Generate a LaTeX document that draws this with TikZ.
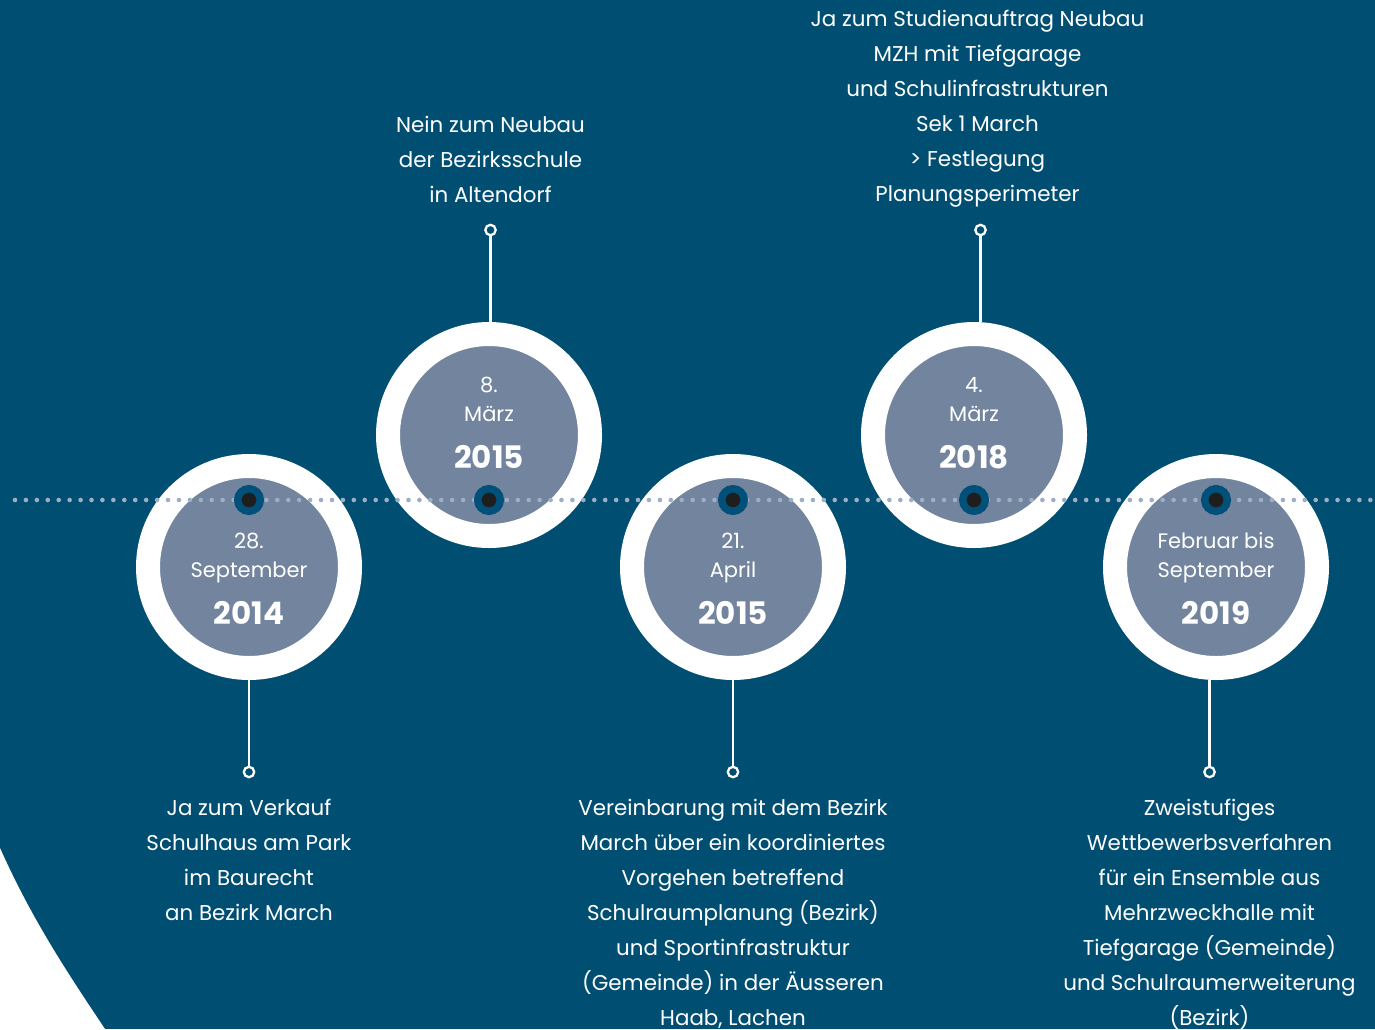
\documentclass[tikz,border=0pt]{standalone}
\usepackage{fontspec}
\setmainfont{Poppins}
\usepackage{xcolor}
\usetikzlibrary{positioning}

\definecolor{bgblue}{HTML}{004F73}
\definecolor{ringgrey}{HTML}{72849E}
\definecolor{dotgrey}{HTML}{9DAFC4}
\definecolor{markblue}{HTML}{00507A}
\definecolor{markblack}{HTML}{1E1E1E}

\tikzset{
  ring/.style={circle, draw=white, line width=24pt, fill=ringgrey, minimum size=202pt, inner sep=0pt},
  marker/.style={circle, draw=markblue, line width=7.5pt, fill=markblack, minimum size=22.5pt, inner sep=0pt},
  endpt/.style={circle, draw=white, line width=2.3pt, fill=bgblue, minimum size=10.4pt, inner sep=0pt},
  stem/.style={white, line width=2.3pt},
  desc/.style={text=white, align=center, inner sep=0pt, font=\fontsize{21.4}{35}\selectfont},
  datum/.style={text=white, inner sep=0pt, anchor=base, font=\fontsize{21}{26}\selectfont},
  jahr/.style={text=white, inner sep=0pt, anchor=base, font=\bfseries\fontsize{31}{36}\selectfont},
  punkte/.style={dotgrey, line width=4.6pt, line cap=round, dash pattern=on 0pt off 10.93pt}
}

\begin{document}
\begin{tikzpicture}[x=1pt, y=-1pt]
% Hintergrund
\useasboundingbox (0,0) rectangle (1375,1029);
\fill [bgblue] (0,0) rectangle (1375,1029);
\fill [white] (0,848) .. controls (30,915) and (62,965) .. (105,1029) -- (0,1029) -- cycle;
% Kreise
\foreach \n/\x/\y/\d/\eins/\zwei/\jahrzahl in {
    14/249/567/0/28./September/2014,
    15a/489/435/-24/8./März/2015,
    15b/733/567/0/21./April/2015,
    18/974/435/-24/4./März/2018,
    19/1216/567/0/Februar bis/September/2019}
{
  \node [ring] (c\n) at (\x,\y) {};
  \node [datum] (a\n) at (\x,{\y-19+\d}) {\eins};
  \node [datum] (b\n) at (\x,{\y+10.5+\d}) {\zwei};
  \node [jahr] (y\n) at (\x,{\y+57+\d}) {\jahrzahl};
}
% Zeitachse
\draw [punkte] (15,500) -- (1375,500);
\foreach \n/\x in {14/249, 15a/489, 15b/733, 18/974, 19/1216}
  \node [marker] (m\n) at (\x,500) {};
% Verbindungen oben
\node [endpt] (e15a) at (490.5,230) {};
\draw [stem] (e15a) -- (e15a |- c15a.north);
\node [endpt] (e18) at (980.5,230) {};
\draw [stem] (e18) -- (e18 |- c18.north);
% Verbindungen unten
\node [endpt] (e14) at (249,772) {};
\draw [stem] (e14) -- (e14 |- c14.south);
\node [endpt] (e15b) at (733,772) {};
\draw [stem] (e15b) -- (e15b |- c15b.south);
\node [endpt] (e19) at (1209.5,772) {};
\draw [stem] (e19) -- (e19 |- c19.south);
% Texte
\node [desc, above=21pt of e15a] (d15a) {Nein zum Neubau\\der Bezirksschule\\in Altendorf};
\node [desc, above=16pt of e18, xshift=-3pt] (d18) {Ja zum Studienauftrag Neubau\\MZH mit Tiefgarage\\und Schulinfrastrukturen\\Sek 1 March\\> Festlegung\\Planungsperimeter};
\node [desc, below=21pt of e14] (d14) {Ja zum Verkauf\\Schulhaus am Park\\im Baurecht\\an Bezirk March};
\node [desc, below=21pt of e15b] (d15b) {Vereinbarung mit dem Bezirk\\March über ein koordiniertes\\Vorgehen betreffend\\Schulraumplanung (Bezirk)\\und Sportinfrastruktur\\(Gemeinde) in der Äusseren\\Haab, Lachen};
\node [desc, below=21pt of e19] (d19) {Zweistufiges\\Wettbewerbsverfahren\\für ein Ensemble aus\\Mehrzweckhalle mit\\Tiefgarage (Gemeinde)\\und Schulraumerweiterung\\(Bezirk)};
\end{tikzpicture}
\end{document}
